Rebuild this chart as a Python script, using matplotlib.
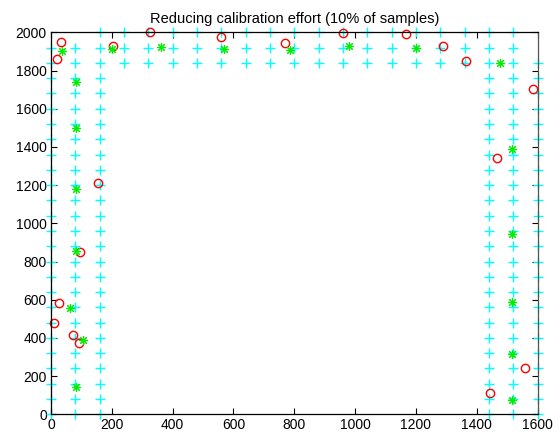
import matplotlib
matplotlib.use('Agg')
import matplotlib.pyplot as plt

plt.rcParams['font.family'] = ['Liberation Sans', 'DejaVu Sans']

# ------------ DANE ------------- #

# siatka kalibracyjna (cyjan)
grid_rows = [0, 80, 160, 240, 320, 400, 480, 560, 640, 720, 800, 880, 960,
             1040, 1120, 1200, 1280, 1360, 1440, 1520, 1600, 1680, 1760,
             1840, 1920, 2000]
grid_cols = [0, 80, 160, 240, 320, 400, 480, 560, 640, 720, 800, 880, 960,
             1040, 1120, 1200, 1280, 1360, 1440, 1520, 1600]
band_cols = [0, 80, 160, 1440, 1520, 1600]
band_rows = [1840, 1920, 2000]
missing = [(0, 2000), (80, 2000), (1600, 2000), (1600, 1920)]

# czerwone kolka
red_x = [20, 33, 205, 325, 558, 769, 961, 1167, 1290, 1366, 1586, 1465,
         156, 95, 27, 11, 73, 93, 1558, 1445]
red_y = [1860, 1951, 1928, 2000, 1974, 1942, 1995, 1990, 1930, 1850, 1701,
         1340, 1209, 848, 581, 480, 415, 375, 244, 113]

# zielone gwiazdki
green_x = [37, 200, 362, 569, 786, 980, 1200, 1476, 1517, 1517, 1517, 1517,
           1517, 82, 82, 82, 82, 62, 104, 82]
green_y = [1904, 1914, 1924, 1914, 1907, 1930, 1916, 1838, 1387, 944, 586,
           314, 75, 1738, 1501, 1178, 857, 558, 389, 145]

title = 'Reducing calibration effort (10% of samples)'

# ------------ WYKRES ------------- #

gx, gy = [], []
for x in grid_cols:
    for y in grid_rows:
        if (x in band_cols or y in band_rows) and (x, y) not in missing:
            gx.append(x)
            gy.append(y)

fig = plt.figure(figsize=(5.6, 4.37), dpi=100)
ax = fig.add_axes([0.091, 0.052, 0.869, 0.874])

ax.plot(gx, gy, '+', color='cyan', markersize=7.5, markeredgewidth=1.0, clip_on=False)
ax.plot(red_x, red_y, 'o', color='red', markerfacecolor='none', markersize=6,
        markeredgewidth=1.0, clip_on=False)
# gwiazdka w stylu matlaba: 8 ramion
ax.plot(green_x, green_y, linestyle='none', marker=(8, 2, 0), color='#00ee00',
        markersize=6.5, markeredgewidth=0.8, clip_on=False)

ax.set_xlim(0, 1600)
ax.set_ylim(0, 2000)
ax.set_xticks(range(0, 1601, 200))
ax.set_yticks(range(0, 2001, 200))
ax.tick_params(direction='in', top=True, right=True, length=4, labelsize=10,
               width=0.8, pad=3)
for s in ax.spines.values():
    s.set_linewidth(0.9)
ax.spines['right'].set_color('#555555')
ax.set_title(title, fontsize=10.5, pad=7)

fig.savefig('out.png', dpi=100)
